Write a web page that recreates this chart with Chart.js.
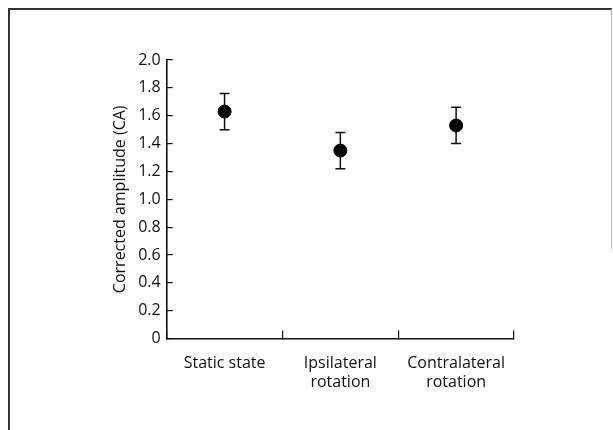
<!DOCTYPE html>
<html>
<head>
<meta charset="utf-8">
<script src="https://cdn.jsdelivr.net/npm/chart.js@4.4.1/dist/chart.umd.min.js"></script>
<style>
  html, body { margin: 0; padding: 0; background: #fff; }
  #wrap { position: relative; width: 613px; height: 430px; }
  #frame {
    position: absolute; left: 8px; top: 8px; width: 602px; height: 430px;
    border-left: 2px solid #333; border-top: 2px solid #333;
  }
  #rightEdge { position: absolute; left: 611px; top: 9px; width: 1px; height: 240px; background: #bbb; }
  canvas { position: absolute; left: 0; top: 0; }
</style>
</head>
<body>
<div id="wrap">
  <div id="frame"></div>
  <div id="rightEdge"></div>
  <canvas id="chart" width="613" height="430"></canvas>
</div>
<script>
const categories = [["Static state"], ["Ipsilateral", "rotation"], ["Contralateral", "rotation"]];
const means = [1.63, 1.35, 1.53];
const errors = [0.13, 0.13, 0.13];
const yTicks = [0, 0.2, 0.4, 0.6, 0.8, 1.0, 1.2, 1.4, 1.6, 1.8, 2.0];

const FONT = "'Open Sans', 'DejaVu Sans', sans-serif";

// error bars with caps, drawn through the scales
const errorBars = {
  id: "errorBars",
  afterDatasetsDraw(chart) {
    const ctx = chart.ctx;
    const x = chart.scales.x, y = chart.scales.y;
    ctx.save();
    ctx.strokeStyle = "#111";
    ctx.lineWidth = 1.5;
    means.forEach((m, i) => {
      const px = x.getPixelForValue(i);
      const top = y.getPixelForValue(m + errors[i]);
      const bot = y.getPixelForValue(m - errors[i]);
      ctx.beginPath();
      ctx.moveTo(px, top); ctx.lineTo(px, bot);
      ctx.moveTo(px - 5, top); ctx.lineTo(px + 5, top);
      ctx.moveTo(px - 5, bot); ctx.lineTo(px + 5, bot);
      ctx.stroke();
    });
    ctx.restore();
  }
};

new Chart(document.getElementById("chart"), {
  type: "line",
  data: {
    labels: categories,
    datasets: [{
      data: means,
      showLine: false,
      pointRadius: 6.5,
      pointHoverRadius: 6.5,
      pointBackgroundColor: "#000",
      pointBorderColor: "#000"
    }]
  },
  plugins: [errorBars],
  options: {
    responsive: false,
    animation: false,
    layout: { padding: { left: 111, right: 99, top: 60, bottom: 15 } },
    plugins: { legend: { display: false }, tooltip: { enabled: false } },
    scales: {
      x: {
        offset: true,
        grid: { offset: true, drawOnChartArea: false, tickLength: -8, color: "#111", lineWidth: 1.2 },
        border: { color: "#111", width: 1.6 },
        ticks: { color: "#111", padding: 23, maxRotation: 0, font: { family: FONT, size: 16 } }
      },
      y: {
        min: 0,
        max: 2,
        afterBuildTicks: (axis) => { axis.ticks = yTicks.map(v => ({ value: v })); },
        grid: { drawOnChartArea: false, tickLength: -6, color: "#111", lineWidth: 1.2 },
        border: { color: "#111", width: 1.6 },
        ticks: {
          color: "#111", padding: 12,
          font: { family: FONT, size: 16 },
          callback: (v) => v === 0 ? "0" : v.toFixed(1)
        },
        title: {
          display: true, text: "Corrected amplitude (CA)", color: "#111",
          font: { family: FONT, size: 16 }, padding: { top: 0, bottom: -4 }
        }
      }
    }
  }
});
</script>
</body>
</html>
